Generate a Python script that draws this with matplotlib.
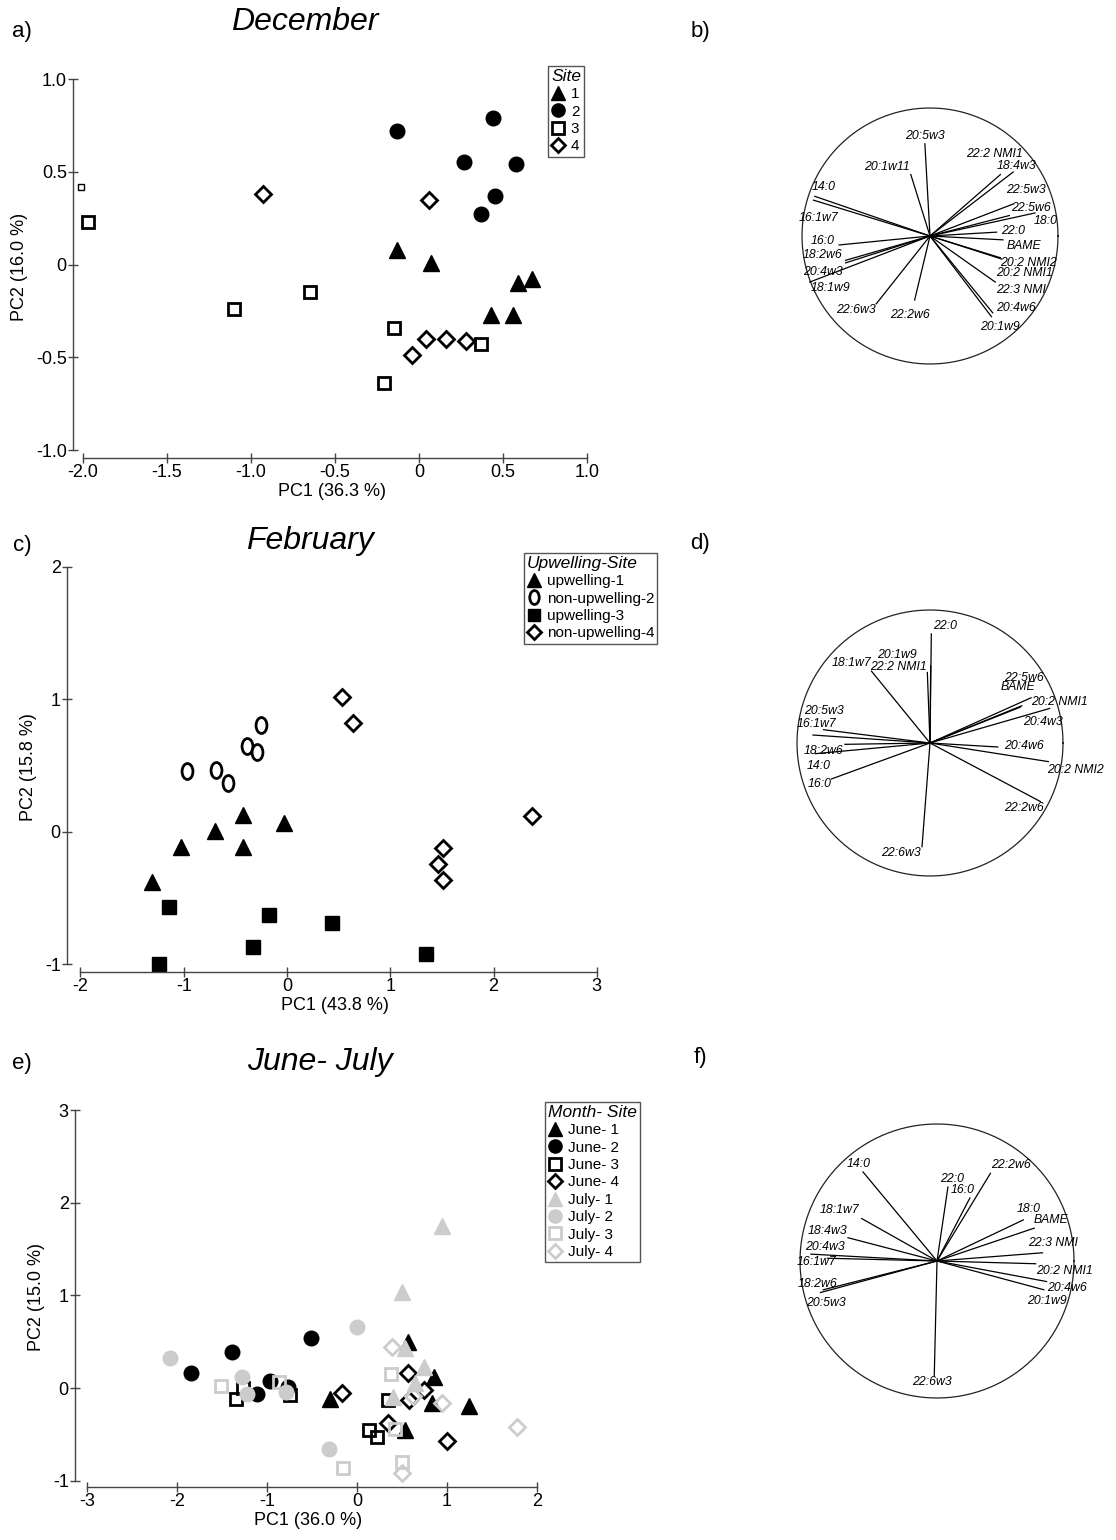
import numpy as np
import matplotlib
matplotlib.use('Agg')
import matplotlib.pyplot as plt
from matplotlib.lines import Line2D
from matplotlib.path import Path
from matplotlib.transforms import Affine2D

plt.rcParams['font.family'] = ['Liberation Sans', 'DejaVu Sans']

# ---- a) December scores ----
dec_site1_x = [-0.13, 0.07, 0.59, 0.67, 0.43, 0.56]
dec_site1_y = [0.08, 0.01, -0.10, -0.08, -0.27, -0.27]
dec_site2_x = [-0.13, 0.44, 0.27, 0.58, 0.45, 0.37]
dec_site2_y = [0.72, 0.79, 0.55, 0.54, 0.37, 0.27]
dec_site3_x = [-1.97, -1.10, -0.65, -0.15, -0.21, 0.37]
dec_site3_y = [0.23, -0.24, -0.15, -0.34, -0.64, -0.43]
dec_site4_x = [-0.93, 0.06, -0.04, 0.04, 0.16, 0.28]
dec_site4_y = [0.38, 0.35, -0.49, -0.40, -0.40, -0.41]
dec_extra_x = [-2.01]
dec_extra_y = [0.42]

# ---- c) February scores ----
feb_up1_x = [-1.31, -1.03, -0.70, -0.43, -0.43, -0.03]
feb_up1_y = [-0.38, -0.11, 0.01, 0.13, -0.11, 0.07]
feb_non2_x = [-0.97, -0.69, -0.57, -0.39, -0.29, -0.25]
feb_non2_y = [0.46, 0.47, 0.37, 0.65, 0.60, 0.81]
feb_up3_x = [-1.14, -1.24, -0.33, -0.17, 0.44, 1.35]
feb_up3_y = [-0.57, -1.00, -0.87, -0.63, -0.69, -0.92]
feb_non4_x = [0.53, 0.64, 2.37, 1.51, 1.46, 1.51]
feb_non4_y = [1.02, 0.82, 0.12, -0.12, -0.24, -0.36]

# ---- e) June-July scores ----
june1_x = [0.57, -0.30, 0.86, 0.83, 1.25, 0.53]
june1_y = [0.50, -0.12, 0.12, -0.16, -0.19, -0.45]
june2_x = [-1.84, -1.39, -0.51, -0.97, -1.11, -0.76]
june2_y = [0.16, 0.39, 0.54, 0.08, -0.06, 0.01]
june3_x = [-1.34, -1.26, -0.74, 0.35, 0.14, 0.22]
june3_y = [-0.12, 0.00, -0.08, -0.13, -0.45, -0.53]
june4_x = [-0.17, 0.57, 0.74, 0.58, 0.34, 1.00]
june4_y = [-0.05, 0.165, -0.02, -0.13, -0.38, -0.57]
july1_x = [0.95, 0.50, 0.53, 0.74, 0.64, 0.40]
july1_y = [1.75, 1.04, 0.43, 0.23, 0.05, -0.10]
july2_x = [-2.08, -1.28, -1.22, -0.79, 0.00, -0.31]
july2_y = [0.32, 0.12, -0.06, -0.04, 0.66, -0.66]
july3_x = [-1.51, -0.86, 0.38, 0.42, -0.15, 0.50]
july3_y = [0.02, 0.07, 0.15, -0.44, -0.87, -0.80]
july4_x = [0.39, 0.62, 0.95, 1.78, 0.50]
july4_y = [0.44, -0.09, -0.16, -0.42, -0.92]

# ---- loading vectors (b, d, f) ----
b_names = ['20:5w3', '20:1w11', '22:2 NMI1', '18:4w3', '22:5w3', '22:5w6', '18:0', '22:0',
           'BAME', '20:2 NMI2', '20:2 NMI1', '22:3 NMI', '20:4w6', '20:1w9', '22:2w6',
           '22:6w3', '18:1w9', '20:4w3', '18:2w6', '16:0', '16:1w7', '14:0']
b_x = [-0.04, -0.15, 0.55, 0.65, 0.65, 0.62, 0.82, 0.52, 0.57, 0.55, 0.56, 0.51, 0.49, 0.48,
       -0.12, -0.42, -0.94, -0.66, -0.66, -0.71, -0.91, -0.90]
b_y = [0.72, 0.48, 0.48, 0.50, 0.25, 0.16, 0.18, 0.03, -0.03, -0.17, -0.18, -0.36, -0.60, -0.63,
       -0.50, -0.53, -0.36, -0.21, -0.19, -0.07, 0.28, 0.31]
d_names = ['22:0', '22:2 NMI1', '20:1w9', '18:1w7', '22:5w6', 'BAME', '20:2 NMI1', '20:4w3',
           '20:4w6', '20:2 NMI2', '22:2w6', '22:6w3', '16:0', '14:0', '18:2w6', '16:1w7', '20:5w3']
d_x = [0.01, 0.005, -0.02, -0.44, 0.68, 0.69, 0.76, 0.90, 0.51, 0.89, 0.83, -0.06, -0.74,
       -0.86, -0.64, -0.88, -0.80]
d_y = [0.82, 0.58, 0.53, 0.54, 0.27, 0.28, 0.34, 0.26, -0.03, -0.14, -0.44, -0.78, -0.27,
       -0.08, -0.01, 0.06, 0.10]
f_names = ['14:0', '22:0', '16:0', '22:2w6', '18:0', 'BAME', '22:3 NMI', '20:2 NMI1', '20:4w6',
           '20:1w9', '22:6w3', '18:1w7', '18:4w3', '20:4w3', '16:1w7', '18:2w6', '20:5w3']
f_x = [-0.54, 0.08, 0.24, 0.39, 0.63, 0.71, 0.77, 0.72, 0.80, 0.78, -0.02, -0.55, -0.65,
       -0.92, -0.80, -0.85, -0.83]
f_y = [0.65, 0.54, 0.46, 0.64, 0.30, 0.24, 0.06, -0.02, -0.15, -0.21, -0.84, 0.31, 0.17,
       0.05, 0.02, -0.23, -0.21]

# label anchor positions (layout only)
b_lab = [(-0.04, 0.78), (-0.34, 0.54), (0.50, 0.64), (0.68, 0.55), (0.75, 0.36), (0.79, 0.22),
         (0.90, 0.12), (0.65, 0.04), (0.73, -0.08), (0.77, -0.21), (0.74, -0.29), (0.71, -0.42),
         (0.67, -0.56), (0.55, -0.71), (-0.16, -0.62), (-0.58, -0.58), (-0.78, -0.41),
         (-0.84, -0.28), (-0.84, -0.15), (-0.84, -0.04), (-0.87, 0.14), (-0.83, 0.38)]
d_lab = [(0.11, 0.88), (-0.24, 0.57), (-0.25, 0.66), (-0.59, 0.60), (0.71, 0.49), (0.66, 0.42),
         (0.97, 0.31), (0.85, 0.16), (0.71, -0.02), (1.09, -0.20), (0.71, -0.49), (-0.22, -0.83),
         (-0.83, -0.31), (-0.84, -0.17), (-0.80, -0.06), (-0.85, 0.14), (-0.80, 0.24)]
f_lab = [(-0.57, 0.71), (0.11, 0.60), (0.19, 0.52), (0.54, 0.70), (0.67, 0.38), (0.83, 0.30),
         (0.85, 0.13), (0.93, -0.07), (0.95, -0.20), (0.80, -0.29), (-0.04, -0.88), (-0.71, 0.37),
         (-0.80, 0.22), (-0.82, 0.10), (-0.88, -0.01), (-0.87, -0.17), (-0.81, -0.31)]

W, H = 1116, 1540
fig = plt.figure(figsize=(W / 100, H / 100), dpi=100)


def px_axes(l, t, r, b):
    return fig.add_axes([l / W, 1 - b / H, (r - l) / W, (b - t) / H])


GREY = '#cccccc'
oval = Path.unit_circle().transformed(Affine2D().scale(0.68, 1.0))


def style_axes(ax, xt, xtl, yt, ytl, xlabel, ylabel):
    for s in ['top', 'right']:
        ax.spines[s].set_visible(False)
    for s in ['left', 'bottom']:
        ax.spines[s].set_color('#444444')
        ax.spines[s].set_linewidth(1.0)
    ax.spines['left'].set_bounds(yt[0], yt[-1])
    ax.spines['bottom'].set_bounds(xt[0], xt[-1])
    ax.set_xticks(xt)
    ax.set_xticklabels(xtl)
    ax.set_yticks(yt)
    ax.set_yticklabels(ytl)
    ax.tick_params(direction='inout', length=7, width=1.0, color='#444444',
                   labelsize=13, pad=1)
    ax.set_xlabel(xlabel, fontsize=13, labelpad=1)
    ax.set_ylabel(ylabel, fontsize=13, labelpad=6)


def legend_at(ax, handles, title, x, y):
    leg = ax.legend(handles=handles, title=title, loc='upper left',
                    bbox_to_anchor=(x / W, 1 - y / H), bbox_transform=fig.transFigure,
                    fontsize=11, title_fontproperties={'style': 'italic', 'size': 12.5},
                    frameon=True, fancybox=False, edgecolor='#555555', framealpha=1,
                    handlelength=0.9, handletextpad=0.4, borderpad=0.2,
                    labelspacing=0.22, borderaxespad=0, alignment='left')
    leg.get_frame().set_linewidth(1.0)
    return leg


def h(marker, fc, ec, ms, mew, label):
    return Line2D([], [], linestyle='none', marker=marker, markerfacecolor=fc,
                  markeredgecolor=ec, markersize=ms, markeredgewidth=mew, label=label)


# ---------------- a) December ----------------
ax = px_axes(73, 75.3, 590.4, 458)
ax.set_xlim(-2.06, 1.02)
ax.set_ylim(-1.043, 1.02)
ax.plot(dec_site1_x, dec_site1_y, '^', color='k', ms=11)
ax.plot(dec_site2_x, dec_site2_y, 'o', color='k', ms=10.5)
ax.plot(dec_site3_x, dec_site3_y, 's', mfc='white', mec='k', ms=9, mew=2)
ax.plot(dec_extra_x, dec_extra_y, 's', mfc='white', mec='k', ms=5, mew=1)
ax.plot(dec_site4_x, dec_site4_y, 'D', mfc='white', mec='k', ms=8, mew=2)
style_axes(ax, [-2, -1.5, -1, -0.5, 0, 0.5, 1],
           ['-2.0', '-1.5', '-1.0', '-0.5', '0', '0.5', '1.0'],
           [-1, -0.5, 0, 0.5, 1], ['-1.0', '-0.5', '0', '0.5', '1.0'],
           'PC1 (36.3 %)', 'PC2 (16.0 %)')
legend_at(ax, [h('^', 'k', 'k', 10, 1, '1'), h('o', 'k', 'k', 9.5, 1, '2'),
               h('s', 'white', 'k', 8, 2, '3'), h('D', 'white', 'k', 7, 2, '4')],
          'Site', 548, 66)

# ---------------- c) February ----------------
ax = px_axes(67, 563, 602, 972)
ax.set_xlim(-2.13, 3.05)
ax.set_ylim(-1.057, 2.03)
ax.plot(feb_up1_x, feb_up1_y, '^', color='k', ms=11)
ax.plot(feb_non2_x, feb_non2_y, linestyle='none', marker=oval, mfc='white', mec='k', ms=11.5, mew=2)
ax.plot(feb_up3_x, feb_up3_y, 's', color='k', ms=10)
ax.plot(feb_non4_x, feb_non4_y, 'D', mfc='white', mec='k', ms=8, mew=2)
style_axes(ax, [-2, -1, 0, 1, 2, 3], ['-2', '-1', '0', '1', '2', '3'],
           [-1, 0, 1, 2], ['-1', '0', '1', '2'], 'PC1 (43.8 %)', 'PC2 (15.8 %)')
legend_at(ax, [h('^', 'k', 'k', 10, 1, 'upwelling-1'),
               h(oval, 'white', 'k', 10, 2, 'non-upwelling-2'),
               h('s', 'k', 'k', 9, 1, 'upwelling-3'),
               h('D', 'white', 'k', 7, 2, 'non-upwelling-4')],
          'Upwelling-Site', 524, 553)

# ---------------- e) June-July ----------------
ax = px_axes(75, 1107.7, 541.5, 1487)
ax.set_xlim(-3.13, 2.05)
ax.set_ylim(-1.07, 3.03)
ax.plot(june1_x, june1_y, '^', color='k', ms=11)
ax.plot(june2_x, june2_y, 'o', color='k', ms=10.5)
ax.plot(june3_x, june3_y, 's', mfc='none', mec='k', ms=9, mew=2)
ax.plot(june4_x, june4_y, 'D', mfc='none', mec='k', ms=8, mew=2)
ax.plot(july1_x, july1_y, '^', color=GREY, ms=11)
ax.plot(july2_x, july2_y, 'o', color=GREY, ms=10.5)
ax.plot(july3_x, july3_y, 's', mfc='none', mec=GREY, ms=9, mew=2)
ax.plot(july4_x, july4_y, 'D', mfc='none', mec=GREY, ms=8, mew=2)
style_axes(ax, [-3, -2, -1, 0, 1, 2], ['-3', '-2', '-1', '0', '1', '2'],
           [-1, 0, 1, 2, 3], ['-1', '0', '1', '2', '3'], 'PC1 (36.0 %)', 'PC2 (15.0 %)')
legend_at(ax, [h('^', 'k', 'k', 10, 1, 'June- 1'), h('o', 'k', 'k', 9.5, 1, 'June- 2'),
               h('s', 'white', 'k', 8, 2, 'June- 3'), h('D', 'white', 'k', 7, 2, 'June- 4'),
               h('^', GREY, GREY, 10, 1, 'July- 1'), h('o', GREY, GREY, 9.5, 1, 'July- 2'),
               h('s', 'white', GREY, 8, 2, 'July- 3'), h('D', 'white', GREY, 7, 2, 'July- 4')],
          'Month- Site', 545, 1102)


# ---------------- loading circles ----------------
def circle_panel(cx, cy, R, names, lx, ly, labs):
    L = 1.35
    side = 2 * L * R
    ax = px_axes(cx - side / 2, cy - side / 2, cx + side / 2, cy + side / 2)
    ax.set_xlim(-L, L)
    ax.set_ylim(-L, L)
    ax.set_aspect('equal')
    ax.axis('off')
    t = np.linspace(0, 2 * np.pi, 400)
    ax.plot(np.cos(t), np.sin(t), color='#222222', lw=0.9)
    for name, x, y, (tx, ty) in zip(names, lx, ly, labs):
        ax.plot([0, x], [0, y], color='k', lw=0.9)
        ax.text(tx, ty, name, ha='center', va='center', fontsize=8.8, style='italic',
                clip_on=False)


circle_panel(930, 236, 128, b_names, b_x, b_y, b_lab)
circle_panel(930, 743, 133, d_names, d_x, d_y, d_lab)
circle_panel(937, 1261, 137, f_names, f_x, f_y, f_lab)

# ---------------- titles and panel letters ----------------
fig.text(305 / W, 1 - 22 / H, 'December', fontsize=23, style='italic', ha='center', va='center')
fig.text(310 / W, 1 - 541 / H, 'February', fontsize=23, style='italic', ha='center', va='center')
fig.text(320 / W, 1 - 1062 / H, 'June- July', fontsize=23, style='italic', ha='center', va='center')
for lab, x, y in [('a)', 22, 32), ('b)', 700, 32), ('c)', 22, 546), ('d)', 700, 543),
                  ('e)', 22, 1064), ('f)', 700, 1058)]:
    fig.text(x / W, 1 - y / H, lab, fontsize=16, ha='center', va='center')

plt.savefig('out.png', dpi=100)
print("Saved: out.png")
